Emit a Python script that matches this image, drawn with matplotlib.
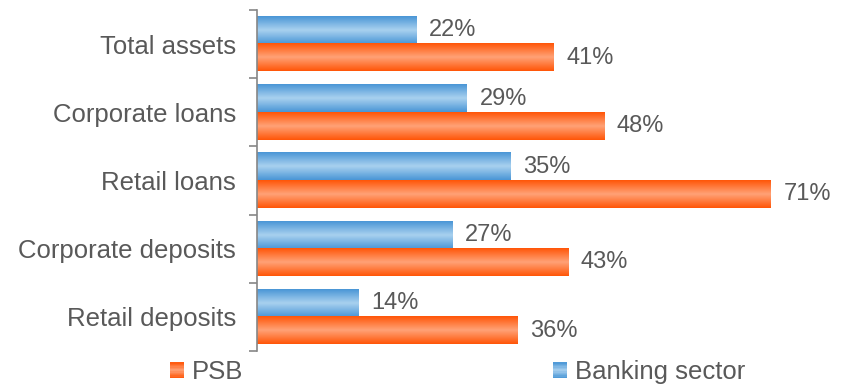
import numpy as np
import matplotlib
matplotlib.use("Agg")
import matplotlib.pyplot as plt
from matplotlib.patches import Patch, Rectangle
from matplotlib.colors import LinearSegmentedColormap
from matplotlib.legend_handler import HandlerBase

categories = ["Total assets", "Corporate loans", "Retail loans", "Corporate deposits", "Retail deposits"]
banking_sector = [22, 29, 35, 27, 14]
psb = [41, 48, 71, 43, 36]
series_names = ["PSB", "Banking sector"]

plt.rcParams['font.family'] = ['Liberation Sans', 'DejaVu Sans']
text_color = "#595959"

fig = plt.figure(figsize=(8.48, 3.84), dpi=100)
ax = fig.add_axes([257/848, 1-351/384, (836-257)/848, (351-10)/384])

y = np.arange(len(categories))
h = 0.4
bars_b = ax.barh(y - h/2, banking_sector, height=h, color="#7fb6e6", zorder=2)
bars_p = ax.barh(y + h/2, psb, height=h, color="#ff7f45", zorder=2)

cmap_b = LinearSegmentedColormap.from_list("b", ["#4a96d6", "#a9d1ef", "#4a96d6"])
cmap_p = LinearSegmentedColormap.from_list("p", ["#ff5608", "#ffa277", "#ff5608"])
grad = np.linspace(0, 1, 64).reshape(-1, 1)

def gradient_fill(bars, cmap):
    for b in bars:
        x0, y0 = b.get_x(), b.get_y()
        w, hh = b.get_width(), b.get_height()
        b.set_facecolor("none")
        b.set_edgecolor("none")
        ax.imshow(grad, cmap=cmap, aspect="auto", extent=(x0, x0 + w, y0 + hh, y0),
                  zorder=1.5, interpolation="bilinear")

gradient_fill(bars_b, cmap_b)
gradient_fill(bars_p, cmap_p)

for bars in (bars_b, bars_p):
    for b in bars:
        v = b.get_width()
        ax.annotate(f"{v:.0f}%", (v, b.get_y() + b.get_height()/2), xytext=(9, 0),
                    textcoords="offset points", va="center", ha="left",
                    fontsize=17, color=text_color)

ax.set_xlim(0, 80)
ax.set_ylim(len(categories) - 0.5, -0.5)
ax.set_yticks(y)
ax.set_yticklabels(categories, fontsize=18.5, color=text_color, va="center_baseline")
ax.set_yticks(np.arange(len(categories) + 1) - 0.5, minor=True)
ax.tick_params(axis="y", which="major", length=0, pad=15)
ax.tick_params(axis="y", which="minor", length=6, width=1.2, color="#868686", direction="out")
ax.set_xticks([])
for s in ["top", "right", "bottom"]:
    ax.spines[s].set_visible(False)
ax.spines["left"].set_color("#868686")
ax.spines["left"].set_linewidth(1.2)


class GradientHandler(HandlerBase):
    def __init__(self, cmap):
        super().__init__()
        self.cmap = cmap

    def create_artists(self, legend, orig_handle, xdescent, ydescent, width, height, fontsize, trans):
        n = 12
        arts = []
        for i in range(n):
            arts.append(Rectangle((-xdescent, -ydescent + height * i / n), width, height / n + 0.3,
                                  facecolor=self.cmap((i + 0.5) / n), edgecolor="none",
                                  transform=trans))
        return arts


h_psb = Patch(facecolor="#ff7f45")
h_bank = Patch(facecolor="#7fb6e6")
fig.legend([h_psb, h_bank], series_names, loc="lower left", bbox_to_anchor=(157/848, -0.034),
           ncol=2, frameon=False, fontsize=18.5, labelcolor=text_color, borderpad=0,
           handlelength=0.55, handleheight=0.55, handletextpad=0.3, columnspacing=12.05,
           handler_map={h_psb: GradientHandler(cmap_p), h_bank: GradientHandler(cmap_b)})

fig.savefig("out.png", dpi=100)
